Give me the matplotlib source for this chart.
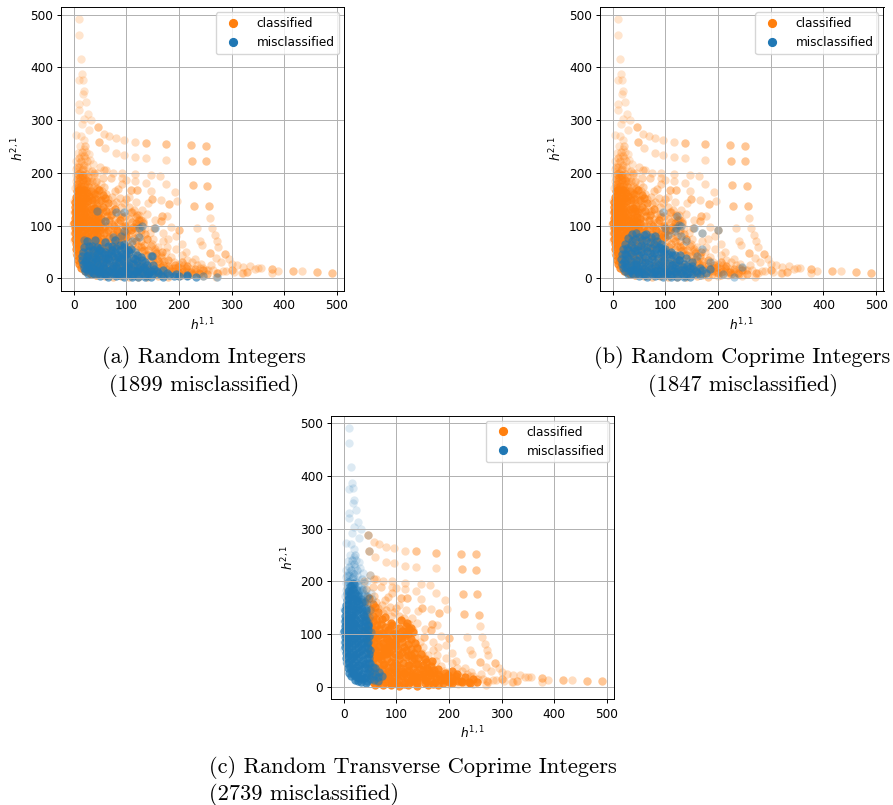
import matplotlib
matplotlib.use("Agg")
import matplotlib.pyplot as plt
from matplotlib.lines import Line2D

ORANGE = "#ff7f0e"
BLUE = "#1f77b4"

# sparse arcs and tail, read individually (x = h11, y = h21)
TAIL = [(47,287),(58,274),(68,270),(80,266),(95,263),(116,258),(137,257),(176,254),(222,252),(251,251),
(49,258),(60,247),(81,237),(95,234),(116,230),(138,228),(176,225),(224,223),(252,222),
(50,212),(62,205),(75,200),(92,200),(116,197),(91,190),(100,187),(117,185),(137,181),(147,195),(164,194),
(176,178),(193,164),(197,147),(182,140),(165,148),(149,150),(142,143),(147,166),(120,168),(108,168),(105,155),
(118,145),(130,130),(140,122),(226,177),(254,176),(228,138),(257,137),(259,115),(262,95),(268,82),(272,70),(275,60),
(167,119),(165,108),(155,110),(153,95),(170,85),(178,118),(185,97),(200,92),(195,80),(205,65),(213,50),(230,36),
(234,95),(240,70),(243,63),(258,48),(270,38),(287,46),(295,36),(300,28),(310,25),(322,22),(335,23),(345,18),(356,19),
(376,17),(376,10),(388,14),(416,14),(433,13),(462,12),(491,11),(320,10),(330,12),(300,15),(290,14),(275,10),(270,3),
(245,5),(255,15),(240,20),(160,60),(175,50),(185,40),(190,30),(200,28),(210,25),(215,35),(225,30),(235,25),(245,20),
(252,15),(260,25),(265,15),(272,11),(180,75),(170,70),(195,55),(205,45),(150,75),(145,85),(135,95),(165,45),(178,60),
(188,20),(198,12),(210,14),(222,18),(232,12),(242,28),(230,8),(218,6),(200,5),(280,30),(284,14),(305,12)]
TAIL_STRONG = [(47,287),(49,258),(137,257),(176,254),(222,252),(251,251),(252,222),(224,223),(254,176),(226,177),
(257,137),(228,138),(416,14),(462,12),(491,11),(287,46),(258,48),(165,108),(167,119),(200,92),(153,95),(182,140),(149,150),
(120,168),(108,168),(272,11),(330,12),(376,17),(350,19),(300,15),(322,10)]
MID = [(45,170),(58,173),(62,160),(72,155),(85,170),(88,152),(100,150),(75,140),(90,135),(60,140),(105,135),(115,130),
(50,150),(70,190),(55,190),(42,185),(66,150),(80,145),(95,142),(110,125),(125,120),(132,108),(120,95),(128,85),(140,75),
(148,65),(155,55),(68,128),(84,122),(98,118),(52,132),(62,118),(78,165),(92,178),(38,200),(58,205)]

# top arm, small h11
ARM = [(11,491),(11,462),(14,416),(15,387),(11,376),(18,377),(19,355),(18,349),(24,335),(10,330),(10,320),(27,312),
(20,303),(33,300),(15,292),(30,282),(5,272),(14,270),(20,262),(12,250),(20,246),(24,240),(30,236),
(8,238),(14,232),(22,228),(31,225),(5,222),(11,218),(17,215),(25,212),(36,216),(4,208),(9,203),(15,206),(21,199),
(29,203),(38,196),(45,200),(5,196),(10,190),(16,193),(23,186),(32,190),(42,183),(4,184),(9,178),(14,182),(20,176),
(28,178),(36,172),(0,147),(0,125),(-1,103),(0,85),(1,72),(4,48),(3,172),(8,168),(52,178),(46,166)]
UPPER_FILL = [(7,212),(13,222),(19,232),(12,200),(18,208),(24,198),(7,188),(13,176),(19,190),(27,192),(35,184),(6,174),(12,170),
(18,182),(24,172),(30,184),(38,176),(44,172),(16,240),(22,250),(10,228),(26,222),(34,204),(28,166),(34,160),(38,152),(44,158),(50,146),
(42,142),(48,132),(54,166),(20,214),(15,195),(10,212)]
UPPER_DENSE = [(6,178),(10,184),(14,176),(18,186),(22,178),(26,184),(30,174),(8,172),(16,170),(24,168),(32,166),(38,162),(42,150),(12,192),(18,196),(9,198),(36,144),(40,134),(46,122),(52,104)]

# dense region, small h11
LEFT_CORE = [(6,165),(10,168),(15,163),(20,167),(26,162),(4,155),(8,158),(13,153),(18,156),(24,152),(30,157),
(3,145),(7,148),(12,143),(17,147),(22,142),(28,146),(34,148),(3,135),(6,138),(10,133),(15,137),(20,132),(26,136),(32,131),(38,134),
(2,125),(5,128),(9,123),(14,127),(19,122),(24,126),(30,121),(36,125),(42,127),(2,115),(5,118),(8,113),(13,117),(18,112),(23,116),(29,111),(35,115),(41,113),(47,117),
(1,105),(4,108),(8,103),(12,107),(17,102),(22,106),(28,101),(34,105),(40,103),(46,107),(2,95),(5,98),(9,93),(14,97),(19,92),(25,96),(31,91),(37,95),(43,93),(49,97),
(2,85),(6,88),(10,83),(15,87),(21,82),(27,86),(33,81),(39,85),(45,83),(3,75),(6,78),(11,73),(16,77),(22,72),(28,76),(34,71),(40,75),(46,73),
(4,65),(7,68),(12,63),(17,67),(23,62),(29,66),(35,61),(42,65),(48,63),(5,55),(8,58),(13,53),(18,57),(24,52),(30,56),(37,51),(44,55),
(6,45),(10,48),(15,43),(21,47),(27,42),(34,46),(41,43),(48,45),(8,35),(12,38),(17,33),(23,37),(30,32),(38,36),(46,33),
(10,27),(15,29),(20,25),(27,28),(35,24),(44,27),(14,20),(19,22),(25,18),(33,21),(42,19),(21,14),(27,12),(35,15),(44,11),(32,9),(42,7)]
CORE_WIDE = [(48,126),(55,135),(62,128),(70,120),(52,112),(60,100),(68,110),(76,100),(50,92),(58,86),(66,92),(74,84),(82,92),(52,76),(60,70),(68,76),(76,68),(84,76),
(92,84),(52,62),(60,56),(70,60),(80,62),(90,70),(100,78),(44,138),(52,148),(60,152),(40,160),(48,168),(55,158),(66,142),(78,132),(88,110),(98,100),(108,92),(118,105),(38,108),(44,88),(50,68)]

# dense region, larger h11
RIGHT_CORE = [(55,125),(72,128),(90,122),(108,126),(120,121),(52,115),(64,118),(78,113),(92,117),(105,112),(118,116),(128,111),
(50,105),(60,108),(72,103),(84,107),(97,102),(110,106),(122,101),(132,104),(56,95),(68,98),(80,93),(92,97),(104,92),(116,96),(128,91),
(50,85),(62,88),(74,83),(86,87),(98,82),(110,86),(122,81),(135,84),(55,75),(67,78),(79,73),(91,77),(103,72),(115,76),(128,71),(140,74),
(52,65),(62,68),(74,63),(86,67),(98,62),(110,66),(122,61),(134,64),(146,62),(58,55),(70,58),(82,53),(94,57),(106,52),(118,56),(130,51),(142,54),(155,52),
(54,45),(65,48),(77,43),(89,47),(101,42),(113,46),(125,41),(137,44),(150,42),(165,40),(52,35),(60,38),(72,33),(84,37),(96,32),(108,36),(120,31),(132,35),(145,33),(158,36),(172,32),
(56,27),(66,29),(78,25),(90,28),(102,24),(114,27),(126,23),(138,28),(150,25),(164,27),(180,24),(52,20),(62,22),(72,18),(84,21),(96,17),(108,20),(120,16),(132,21),(146,18),(160,20),(175,17),(192,19),(205,17),
(58,14),(68,12),(80,15),(92,11),(104,14),(116,10),(128,13),(140,11),(154,14),(168,12),(184,13),(200,10),(218,12),
(55,9),(66,7),(78,9),(90,6),(102,8),(114,6),(126,9),(140,7),(154,8),(170,6),(188,8),(206,7),(224,9),(240,8),
(60,4),(75,3),(90,4),(105,2),(122,3),(140,2),(160,4),(180,3)]
LOW_FILL = [(150,20),(158,12),(166,22),(174,10),(182,20),(190,14),(198,22),(206,12),(214,20),(222,12),(230,18),(238,10),(246,15),(254,9),(160,32),(170,26),(180,34),(192,26),
(205,30),(215,24),(140,18),(132,12),(150,32),(142,44),(156,48),(168,50),(64,16),(76,24),(88,16),(100,28),(112,20),(124,30),(136,22),(62,34),(74,42),(86,30),(98,46),(110,30),(122,42),(134,54),
(70,52),(82,64),(94,40),(106,60),(118,70),(128,60),(64,60),(76,72),(88,80),(100,88),(112,98),(124,110)]

# misclassified sets
BLUE_A = [(25,70),(40,72),(60,68),(78,72),(95,66),(20,60),(35,62),(50,58),(65,61),(80,57),(95,60),(108,56),
(18,50),(28,52),(40,48),(52,51),(65,47),(78,50),(92,46),(105,49),(120,45),(16,42),(26,43),(36,40),(48,42),(60,39),(72,43),(85,40),(98,42),(112,38),(128,40),(148,42),
(15,34),(24,35),(34,32),(44,35),(55,31),(67,34),(80,30),(93,33),(106,29),(120,32),(135,30),(17,27),(26,28),(35,25),(45,27),(56,24),(68,27),(80,23),(93,26),(106,23),(120,25),(134,22),(150,25),
(19,20),(28,21),(38,18),(48,20),(60,17),(72,20),(84,16),(97,19),(110,16),(124,18),(138,15),(152,17),(170,15),
(22,14),(32,13),(42,15),(54,12),(66,14),(78,11),(90,13),(103,11),(116,13),(130,11),(144,12),(160,10),(178,11),(195,9),
(28,9),(38,8),(50,9),(62,7),(74,9),(86,6),(98,8),(110,6),(122,8),(136,6),(150,8),(165,6),(182,7),(200,5),(215,6),
(50,4),(65,3),(80,4),(95,2),(110,3),(123,2),(135,3),(147,2),(170,3),(190,4),(215,4),(232,3)]
BLUE_FILL = [(22,30),(30,26),(40,30),(50,24),(62,30),(74,24),(86,30),(98,24),(112,28),(126,22),(140,26),(24,18),(34,20),(44,14),(56,20),(68,14),(80,20),(92,14),(104,20),(118,14),(132,18),(146,14),
(36,10),(48,12),(60,8),(72,12),(84,8),(96,12),(108,8),(120,12),(142,8),(158,13),(30,38),(42,38),(54,36),(66,38),(78,36),(90,38),(102,36),(116,36),(130,34),(28,44),(44,46),(58,46),(70,48),(84,44),(100,46),(36,54),(48,54),(60,50),(72,54),(88,54),(30,62),(44,60),(72,62),(88,64),(104,54)]
BLUE_A_SPARSE = [(80,125),(95,125),(125,95),(130,100),(155,95),(125,78),(147,42),(272,3),(245,5),(60,108),(45,128),(95,90),(95,58),(116,50),(20,72),(90,80),(110,70),(75,78)]

BLUE_B = [(45,85),(60,82),(72,78),(30,76),(42,74),(56,72),(70,68),(84,70),(24,66),(35,64),(48,62),(60,60),(74,58),(88,60),(100,56),
(20,56),(30,54),(42,52),(54,50),(66,52),(78,48),(92,50),(105,47),(118,44),(18,46),(26,44),(38,42),(50,44),(62,40),(74,42),(86,38),(98,40),(110,37),(125,35),(140,38),
(16,36),(24,34),(34,32),(44,35),(55,31),(67,34),(80,30),(93,33),(106,29),(120,30),(135,28),(150,30),(18,27),(26,28),(35,25),(45,27),(56,24),(68,27),(80,23),(93,26),(106,23),(120,25),(134,22),(150,24),(165,20),
(20,20),(28,21),(38,18),(48,20),(60,17),(72,20),(84,16),(97,19),(110,16),(124,18),(138,15),(152,17),(170,15),(185,17),
(24,14),(32,13),(42,15),(54,12),(66,14),(78,11),(90,13),(103,11),(116,13),(130,11),(144,12),(160,10),(178,11),
(30,9),(38,8),(50,9),(62,7),(74,9),(86,6),(98,8),(110,6),(122,8),(136,6),(150,8),(165,6),
(50,4),(65,3),(80,4),(95,2),(110,3),(123,2),(135,3),(147,2)]
BLUE_B_FILL = [(36,70),(50,78),(64,72),(78,66),(92,66),(28,58),(40,58),(54,64),(66,60),(82,56),(96,54),(110,50),(24,46),(34,48),(46,54),(58,46),(70,48),(84,46),(98,48),(112,44),(128,44),
(22,30),(30,38),(40,28),(50,34),(62,30),(74,36),(86,26),(98,34),(112,26),(126,34),(142,24),(24,22),(34,16),(44,22),(56,18),(68,22),(80,14),(92,20),(104,14),(118,20),(132,16),(146,20),(158,14),
(36,11),(48,12),(60,9),(72,12),(84,8),(96,12),(108,8),(120,12),(142,8),(64,84),(80,80),(36,84),(92,58)]
BLUE_B_SPARSE = [(95,125),(122,118),(100,95),(105,82),(120,95),(125,102),(130,100),(130,80),(155,95),(170,85),(200,92),(140,70),(160,42),(185,30),(230,3),(245,22),(210,8),(170,55),(118,90)]

BLUE_C_EXTRA = [(50,15),(55,20),(60,25),(65,18),(72,20),(50,30),(55,38),(48,55),(50,70),(47,85),(44,100),(40,125),(36,138),(30,150),(25,165),(22,178),
(58,13),(66,12),(50,45),(48,25),(40,38),(30,42),(25,88),(18,100),(22,120),(12,90),(12,130),(30,100),(35,70),(20,60),(18,185),(14,192),(12,178),(20,195),(8,182),(28,172),(34,160),(42,145),(46,115),(38,16),(30,16),(24,24),(16,34),(60,35),(68,28)]
C_GREY = [(47,287),(49,258),(50,212),(36,185),(45,172)]

CAPTIONS = [("(a) Random Integers", "(1899 misclassified)"),
            ("(b) Random Coprime Integers", "(1847 misclassified)"),
            ("(c) Random Transverse Coprime Integers", "(2739 misclassified)")]
TICKS = [0, 100, 200, 300, 400, 500]

W, H = 893, 805
fig = plt.figure(figsize=(W / 100, H / 100), dpi=100)
S = 36
FS = 8.7


def scatter(ax, pts, color, alpha):
    ax.scatter([p[0] for p in pts], [p[1] for p in pts], s=S, c=color, alpha=alpha, linewidths=0)


def panel(box):
    l, t, r, b = box
    ax = fig.add_axes([l / W, 1 - b / H, (r - l) / W, (b - t) / H])
    ax.set_xlim(-23.5, 514)
    ax.set_ylim(-23.5, 514)
    ax.set_xticks(TICKS)
    ax.set_yticks(TICKS)
    ax.grid(True, linewidth=0.7)
    ax.tick_params(length=3, width=0.7, labelsize=FS, pad=3)
    for s in ax.spines.values():
        s.set_linewidth(0.7)
    ax.set_xlabel(r"$h^{1,1}$", fontsize=FS, labelpad=3)
    ax.set_ylabel(r"$h^{2,1}$", fontsize=FS, labelpad=3)
    return ax


def legend(ax):
    handles = [Line2D([], [], ls="", marker="o", ms=5.6, mfc=ORANGE, mec=ORANGE, label="classified"),
               Line2D([], [], ls="", marker="o", ms=5.6, mfc=BLUE, mec=BLUE, label="misclassified")]
    ax.legend(handles=handles, loc="upper right", fontsize=FS, borderaxespad=0.42, handletextpad=0.95)


def caption(lines, x, ys, ha):
    for txt, y in zip(lines, ys):
        fig.text(x / W, 1 - y / H, txt, family="cmr10", fontsize=16.15, ha=ha, va="center")


def orange_base(ax):
    scatter(ax, ARM, ORANGE, 0.2)
    scatter(ax, UPPER_FILL, ORANGE, 0.3)
    scatter(ax, UPPER_DENSE, ORANGE, 0.45)
    scatter(ax, TAIL, ORANGE, 0.26)
    scatter(ax, TAIL_STRONG, ORANGE, 0.24)
    scatter(ax, MID, ORANGE, 0.32)
    scatter(ax, LEFT_CORE, ORANGE, 0.8)
    scatter(ax, CORE_WIDE, ORANGE, 0.65)
    scatter(ax, RIGHT_CORE, ORANGE, 0.4)
    scatter(ax, LOW_FILL, ORANGE, 0.5)


# panel (a)
ax = panel((61.3, 7.3, 344.3, 290.7))
orange_base(ax)
scatter(ax, BLUE_A, BLUE, 0.65)
scatter(ax, BLUE_FILL, BLUE, 0.7)
scatter(ax, BLUE_A_SPARSE, BLUE, 0.4)
legend(ax)
caption(CAPTIONS[0], 204, (357, 385), "center")

# panel (b)
ax = panel((600.3, 7.3, 883.5, 290.7))
orange_base(ax)
scatter(ax, BLUE_B, BLUE, 0.6)
scatter(ax, BLUE_B_FILL, BLUE, 0.65)
scatter(ax, BLUE_B_SPARSE, BLUE, 0.35)
legend(ax)
caption(CAPTIONS[1], 742.5, (357, 385), "center")

# panel (c)
ax = panel((331.3, 415.7, 614.3, 699.3))
scatter(ax, TAIL, ORANGE, 0.26)
scatter(ax, TAIL_STRONG, ORANGE, 0.24)
scatter(ax, MID, ORANGE, 0.32)
scatter(ax, CORE_WIDE, ORANGE, 0.8)
scatter(ax, RIGHT_CORE, ORANGE, 0.85)
scatter(ax, LOW_FILL, ORANGE, 0.85)
scatter(ax, ARM, BLUE, 0.15)
scatter(ax, UPPER_FILL, BLUE, 0.22)
scatter(ax, UPPER_DENSE, BLUE, 0.4)
scatter(ax, C_GREY, BLUE, 0.2)
scatter(ax, LEFT_CORE, BLUE, 0.75)
scatter(ax, BLUE_C_EXTRA, BLUE, 0.6)
legend(ax)
caption([CAPTIONS[2][0]], 209, (767,), "left")
caption([CAPTIONS[2][1]], 209, (794,), "left")

fig.savefig("out.png", dpi=100)
